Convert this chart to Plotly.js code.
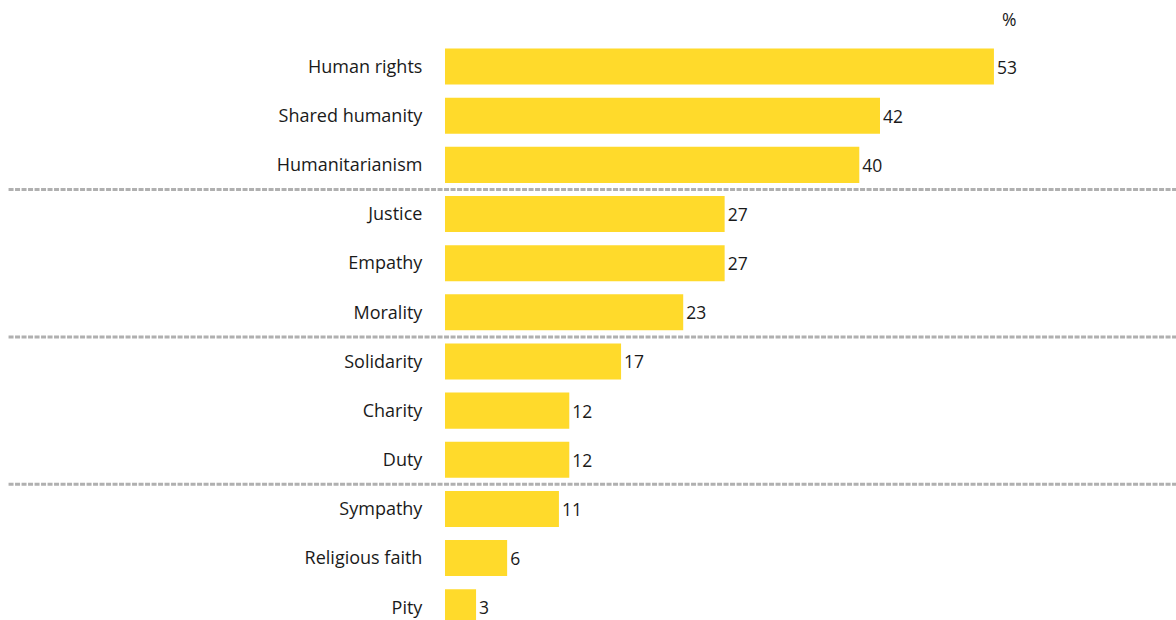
<!DOCTYPE html>
<html>
<head>
<meta charset="utf-8">
<script src="https://cdn.plot.ly/plotly-3.0.1.min.js"></script>
<style>html,body{margin:0;padding:0;background:#fff;}#chart{width:1176px;height:620px;}</style>
</head>
<body>
<div id="chart"></div>
<script>
const categories = ["Human rights","Shared humanity","Humanitarianism","Justice","Empathy","Morality","Solidarity","Charity","Duty","Sympathy","Religious faith","Pity"];
const values = [53,42,40,27,27,23,17,12,12,11,6,3];
const groupBreaks = [2.5, 5.5, 8.5];
const unitLabel = "%";

const trace = {
  type: "bar",
  orientation: "h",
  y: categories,
  x: values,
  marker: {color: "#FFDA2B"},
  text: values.map(String),
  textposition: "outside",
  cliponaxis: false,
  textfont: {family: "Open Sans", size: 17.5, color: "#1a1a1a"},
  hoverinfo: "none"
};

const shapes = groupBreaks.map(b => ({
  type: "line", xref: "paper", yref: "y",
  x0: -0.602, x1: 1.01, y0: b, y1: b,
  line: {color: "#b0b0b0", width: 3, dash: "5px,1.5px"}
}));

const layout = {
  width: 1176, height: 620,
  margin: {l: 445, r: 6, t: 42, b: 0, pad: 0},
  paper_bgcolor: "#fff", plot_bgcolor: "#fff",
  showlegend: false,
  bargap: 0.267,
  xaxis: {range: [0, 70], visible: false, fixedrange: true},
  yaxis: {
    type: "category",
    range: [11.26, -0.5],
    showgrid: false, zeroline: false, showline: false,
    ticks: "outside", ticklen: 18, tickcolor: "rgba(0,0,0,0)",
    tickfont: {family: "Open Sans", size: 18, color: "#1a1a1a"}
  },
  shapes: shapes,
  annotations: [{
    text: unitLabel, xref: "x", yref: "paper", x: 53, y: 1.04,
    xanchor: "left", yanchor: "middle", xshift: 6, showarrow: false,
    font: {family: "Open Sans", size: 17.5, color: "#1a1a1a"}
  }]
};

Plotly.newPlot("chart", [trace], layout, {displayModeBar: false, staticPlot: true});
</script>
</body>
</html>
